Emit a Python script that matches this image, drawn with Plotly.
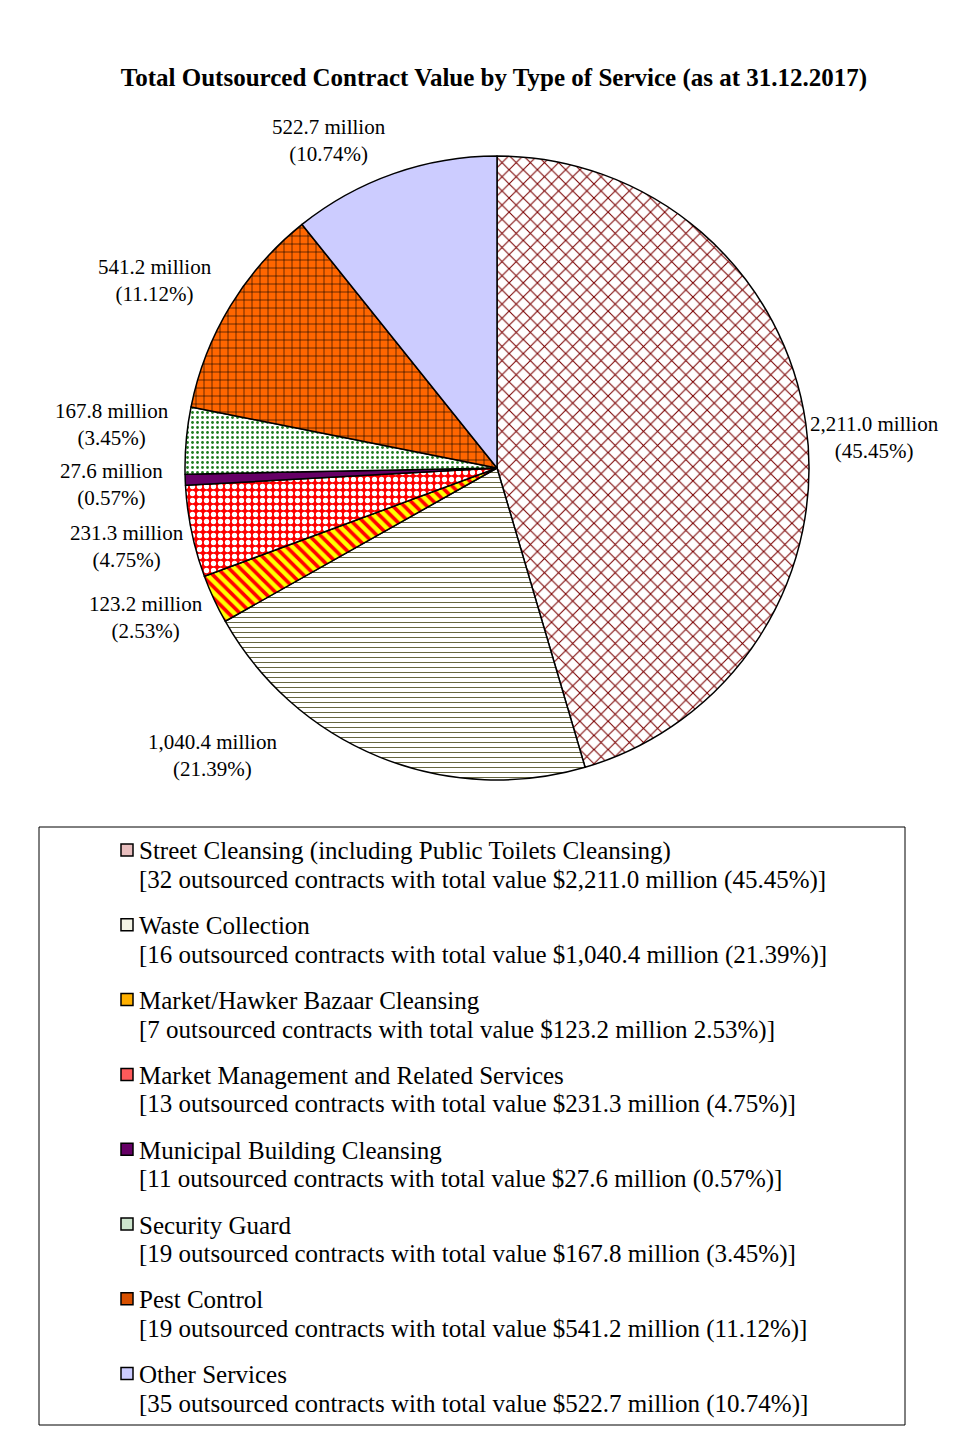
import math
import plotly.graph_objects as go

# ---------------- data ----------------
services = [
    "Street Cleansing (including Public Toilets Cleansing)",
    "Waste Collection",
    "Market/Hawker Bazaar Cleansing",
    "Market Management and Related Services",
    "Municipal Building Cleansing",
    "Security Guard",
    "Pest Control",
    "Other Services",
]
values = [2211.0, 1040.4, 123.2, 231.3, 27.6, 167.8, 541.2, 522.7]
percents = [45.45, 21.39, 2.53, 4.75, 0.57, 3.45, 11.12, 10.74]
contracts = [32, 16, 7, 13, 11, 19, 19, 35]
legend_details = [
    "[32 outsourced contracts with total value $2,211.0 million (45.45%)]",
    "[16 outsourced contracts with total value $1,040.4 million (21.39%)]",
    "[7 outsourced contracts with total value $123.2 million 2.53%)]",
    "[13 outsourced contracts with total value $231.3 million (4.75%)]",
    "[11 outsourced contracts with total value $27.6 million (0.57%)]",
    "[19 outsourced contracts with total value $167.8 million (3.45%)]",
    "[19 outsourced contracts with total value $541.2 million (11.12%)]",
    "[35 outsourced contracts with total value $522.7 million (10.74%)]",
]
title_text = "Total Outsourced Contract Value by Type of Service (as at 31.12.2017)"

# ---------------- styles ----------------
W, H = 961, 1450
FONT = "Liberation Serif, Times New Roman, serif"
bg_colors = ["#FFFFFF", "#FFFFFF", "#FFFF00", "#FF0000", "#660066", "#FFFFFF", "#FF6600", "#CCCCFF"]
fg_colors = ["#7A0000", "#333300", "#FF0000", "#FFFFFF", "#660066", "#1E7B1E", "#000000", "#CCCCFF"]
pat_shapes = ["x", "-", "\\", ".", "", ".", "+", ""]
pat_sizes = [10, 5, 8, 7, 8, 5, 8, 8]
pat_solid = [0.2, 0.15, 0.45, 0.45, 0.3, 0.25, 0.14, 0.3]
swatch_colors = ["#E8BEBE", "#F4F4E6", "#FFB000", "#FF5A5A", "#660066", "#CDE5CD", "#D85000", "#CCCCFF"]

# pie geometry (pixels)
cx, cy, R = 497, 468, 312
# label nudges (pixels, +x right, +y down)
label_nudge = [(-8, 15), (-97, -38), (0, 14), (4, 13), (-10, 4), (-5, -15), (-8, 7), (-2, 4)]

fig = go.Figure()
fig.add_trace(go.Pie(
    labels=services,
    values=values,
    sort=False,
    direction="clockwise",
    rotation=0,
    textinfo="none",
    showlegend=False,
    marker=dict(
        colors=bg_colors,
        line=dict(color="#000000", width=1.5),
        pattern=dict(shape=pat_shapes, fgcolor=fg_colors, bgcolor=bg_colors,
                     size=pat_sizes, solidity=pat_solid),
    ),
    domain=dict(x=[(cx - R) / W, (cx + R) / W], y=[1 - (cy + R) / H, 1 - (cy - R) / H]),
))

# slice labels placed from the slice mid-angles
total = sum(values)
cum = 0.0
annotations = []
for i, v in enumerate(values):
    mid = (cum + v / 2) / total * 2 * math.pi
    cum += v
    s, c = math.sin(mid), math.cos(mid)
    px = cx + (R + 10) * s
    py = cy - (R + 10) * c
    xanchor = "left" if s > 0.1 else ("right" if s < -0.1 else "center")
    yanchor = "bottom" if c > 0.5 else ("top" if c < -0.5 else "middle")
    nx, ny = label_nudge[i]
    annotations.append(dict(
        x=(px + nx) / W, y=1 - (py + ny) / H, xref="paper", yref="paper",
        xanchor=xanchor, yanchor=yanchor, showarrow=False, align="center",
        text=f"{v:,.1f} million<br>({percents[i]:.2f}%)",
        font=dict(family=FONT, size=21, color="#000000"),
    ))

# custom legend
shapes = [dict(type="rect", xref="paper", yref="paper",
               x0=39 / W, x1=905 / W, y0=1 - 1425 / H, y1=1 - 827 / H,
               line=dict(color="#000000", width=1), fillcolor="rgba(0,0,0,0)")]
row0, row_gap, line_gap = 851, 74.8, 29
for i, name in enumerate(services):
    y1 = row0 + i * row_gap
    shapes.append(dict(type="rect", xref="paper", yref="paper",
                       x0=121 / W, x1=133 / W, y0=1 - (y1 + 5) / H, y1=1 - (y1 - 7) / H,
                       line=dict(color="#000000", width=1.5), fillcolor=swatch_colors[i]))
    annotations.append(dict(x=137 / W, y=1 - y1 / H, xref="paper", yref="paper",
                            xanchor="left", yanchor="middle", showarrow=False,
                            text=name, font=dict(family=FONT, size=25, color="#000000")))
    annotations.append(dict(x=137 / W, y=1 - (y1 + line_gap) / H, xref="paper", yref="paper",
                            xanchor="left", yanchor="middle", showarrow=False,
                            text=legend_details[i], font=dict(family=FONT, size=25, color="#000000")))

fig.update_layout(
    width=W, height=H,
    margin=dict(l=0, r=0, t=0, b=0),
    paper_bgcolor="#FFFFFF", plot_bgcolor="#FFFFFF",
    title=dict(text=f"<b>{title_text}</b>", x=494 / W, xanchor="center",
               y=1 - 77 / H, yanchor="middle", yref="container",
               font=dict(family=FONT, size=25, color="#000000")),
    annotations=annotations,
    shapes=shapes,
)

fig.write_html("out.html", config={"displayModeBar": False},
               post_script="document.body.style.margin='0';")
